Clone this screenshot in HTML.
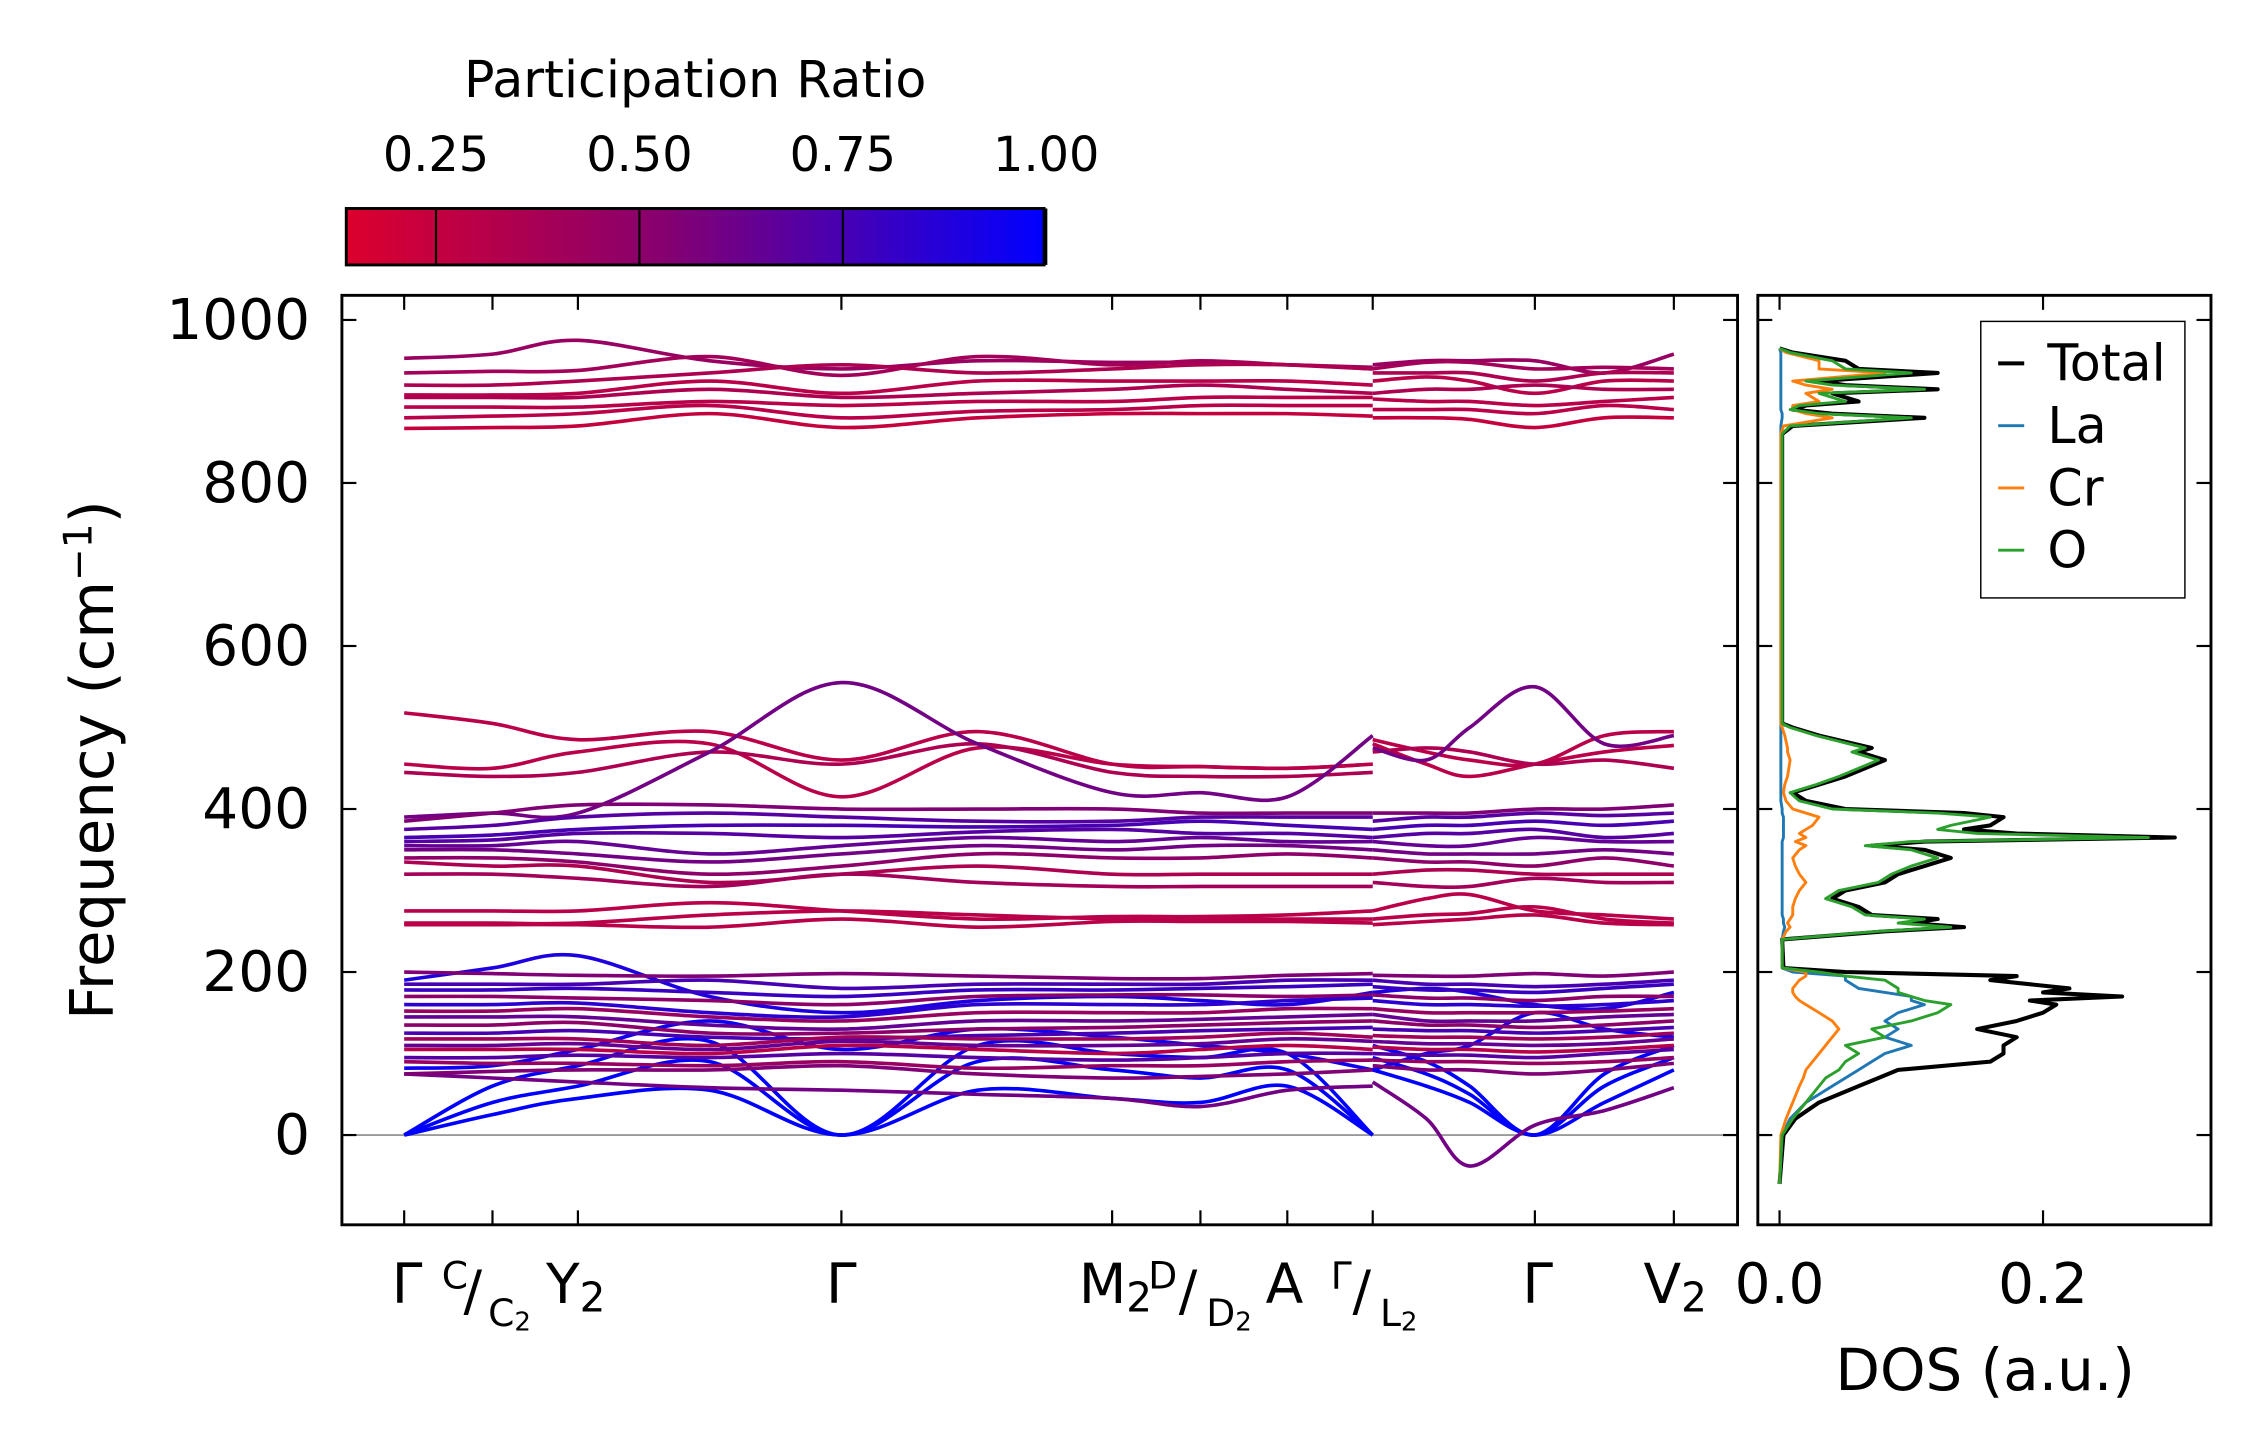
<!DOCTYPE html>
<html><head><meta charset="utf-8">
<style>
html,body{margin:0;padding:0;background:#fff;}
svg{display:block;font-family:"DejaVu Sans","Liberation Sans",sans-serif;}
</style></head>
<body>
<svg id="chart" width="2259" height="1455" viewBox="0 0 1560 1005" xmlns="http://www.w3.org/2000/svg">
<defs>
<linearGradient id="cmap" x1="0" x2="1" y1="0" y2="0">
<stop offset="0" stop-color="rgb(220,0,45)"/>
<stop offset="0.45" stop-color="rgb(135,0,110)"/>
<stop offset="1" stop-color="rgb(0,0,255)"/>
</linearGradient>
<clipPath id="clipMain"><rect x="236" y="204" width="964" height="642"/></clipPath>
<clipPath id="clipDos"><rect x="1214" y="204" width="313" height="642"/></clipPath>
</defs>
<g id="colorbar">
<text x="480" y="67" font-size="35" text-anchor="middle">Participation Ratio</text>
<rect x="239" y="144" width="482" height="39" fill="url(#cmap)" stroke="#000" stroke-width="2"/>
</g>
<g id="mainAxes"></g>
<g id="dosAxes"></g>
<text transform="translate(78,525) rotate(-90)" font-size="41" text-anchor="middle">Frequency (cm<tspan dy="-15" font-size="27">−1</tspan><tspan dy="15">)</tspan></text>
<text x="1371" y="960" font-size="40" text-anchor="middle">DOS (a.u.)</text>
</svg>
<script>
// ---- data ----
const seg1K = [279,340,399,490,581,675,768,829,889,948];
const seg2K = [948,985,1015,1060,1108,1156];
const bandSeg1 = [
[953,958,975,950,940,950,948,948,945,942],
[935,937,938,955,932,955,945,950,945,940],
[920,920,925,935,945,935,940,945,945,940],
[908,908,910,925,910,925,925,925,925,920],
[905,905,905,915,905,910,915,920,915,910],
[893,893,893,900,895,900,900,905,905,905],
[880,882,885,895,880,888,890,895,895,895],
[867,868,870,885,868,880,885,885,885,882],
[518,505,485,495,460,495,455,452,450,455],
[455,450,470,480,415,475,455,452,450,455],
[445,440,445,470,455,480,445,440,440,445],
[390,395,395,470,555,480,420,420,415,490],
[385,395,405,405,400,400,400,395,395,395],
[375,380,390,395,390,385,385,390,390,390],
[365,368,375,380,380,378,380,385,380,375],
[360,362,370,370,365,372,375,370,370,365],
[355,355,360,345,355,365,360,365,360,360],
[350,350,345,335,345,355,350,355,355,350],
[340,340,335,320,330,345,340,340,345,340],
[335,330,330,310,320,330,320,320,320,320],
[320,320,315,305,320,310,305,305,305,305],
[275,275,275,285,275,265,268,268,270,275],
[260,260,260,270,275,270,265,265,265,265],
[258,258,258,255,265,255,262,262,262,260],
[0,25,45,55,0,55,45,40,60,0],
[0,40,60,90,0,90,80,70,80,0],
[0,60,85,115,0,110,100,95,100,0],
[75,70,65,58,55,50,45,35,55,60],
[82,85,105,140,105,130,120,110,100,80],
[190,205,220,170,150,165,170,165,160,175],
[200,198,196,195,198,195,192,192,196,198],
[185,185,185,190,180,185,185,185,190,190],
[178,178,180,175,170,178,178,180,182,185],
[170,170,168,165,160,170,172,172,170,172],
[160,160,162,150,145,160,160,160,165,168],
[152,152,155,145,140,150,150,150,155,155],
[145,145,145,135,130,140,140,142,145,148],
[135,135,138,125,125,130,132,135,138,140],
[125,125,128,120,118,122,125,128,130,132],
[118,118,118,110,120,118,118,120,125,120],
[110,110,112,105,115,110,110,112,118,115],
[105,105,105,100,110,105,100,105,110,105],
[95,95,98,95,100,95,92,95,100,100],
[90,88,88,85,90,82,85,85,90,92],
[75,78,80,80,85,75,70,72,75,80]
];
const bandSeg2 = [
[945,950,950,950,935,958],
[940,948,948,940,942,940],
[935,935,935,925,935,935],
[925,930,925,910,925,925],
[910,915,915,920,915,915],
[903,900,900,895,900,905],
[890,890,890,885,895,890],
[880,880,878,868,880,880],
[485,470,460,455,490,495],
[480,455,440,455,470,478],
[470,475,470,455,460,450],
[475,460,500,550,480,490],
[395,395,395,400,400,405],
[385,390,390,395,392,395],
[375,380,380,385,380,385],
[365,370,370,375,365,370],
[360,355,355,365,360,360],
[350,345,345,345,350,345],
[340,335,335,330,340,330],
[320,325,325,320,320,320],
[310,305,305,315,310,310],
[275,290,295,275,270,265],
[265,270,272,280,265,260],
[258,262,265,270,260,258],
[80,60,40,0,40,80],
[95,75,50,0,60,95],
[110,90,60,0,75,110],
[65,20,-38,12,30,58],
[80,100,110,150,130,120],
[175,180,175,160,155,175],
[196,195,195,198,195,200],
[190,185,185,182,185,190],
[182,178,178,175,180,185],
[172,168,168,165,170,170],
[165,160,160,158,160,165],
[155,150,150,150,152,155],
[148,140,140,140,145,148],
[140,135,135,132,135,140],
[130,128,128,125,128,132],
[122,120,120,118,120,125],
[115,112,112,110,112,118],
[108,105,105,102,105,110],
[100,98,98,95,100,105],
[92,90,90,88,90,95],
[85,80,80,75,80,88]
];
const bandPR = [0.45,0.4,0.35,0.3,0.35,0.3,0.3,0.25,0.3,0.3,0.35,0.6,0.55,0.7,0.75,0.7,0.65,0.6,0.5,0.35,0.4,0.3,0.3,0.3,1.0,1.0,1.0,0.6,0.95,0.9,0.55,0.75,0.8,0.5,0.85,0.45,0.65,0.5,0.75,0.4,0.65,0.3,0.7,0.45,0.55];
const yTicks = [0,200,400,600,800,1000];
const cbTicks = [0.25,0.50,0.75,1.00];
const dosFreq = [-60,0,20,40,60,70,80,90,100,110,120,130,140,150,160,165,170,175,180,190,195,200,205,240,250,255,260,265,270,280,290,300,310,320,330,340,350,355,360,365,370,375,380,390,395,400,410,420,430,440,460,470,475,490,500,505,860,870,880,885,890,895,900,910,915,920,925,935,940,950,960,965];
const dosTotal = [0,.003,.012,.03,.06,.075,.09,.16,.17,.17,.18,.15,.18,.2,.21,.19,.26,.2,.22,.16,.18,.05,.003,.002,.08,.14,.1,.12,.07,.06,.04,.05,.08,.09,.11,.13,.11,.07,.11,.3,.18,.14,.16,.17,.14,.05,.02,.01,.03,.05,.08,.06,.07,.03,.01,.002,.002,.01,.11,.04,.01,.02,.06,.04,.12,.05,.03,.12,.06,.05,.01,0];
const dosO = [0,.002,.01,.02,.03,.035,.045,.05,.06,.05,.08,.07,.1,.12,.13,.11,.1,.09,.09,.08,.05,.03,.002,.002,.075,.13,.09,.11,.065,.055,.035,.045,.075,.085,.1,.12,.1,.065,.1,.28,.15,.12,.13,.16,.12,.04,.015,.008,.028,.045,.075,.055,.065,.028,.008,.002,.002,.008,.1,.03,.008,.015,.05,.03,.11,.04,.02,.1,.05,.04,.008,0];
const dosLa = [0,.002,.008,.02,.04,.05,.06,.07,.08,.1,.08,.09,.08,.09,.11,.1,.1,.08,.06,.05,.05,.01,.002,.002,.003,.004,.003,.003,.002,.002,.002,.002,.002,.002,.002,.002,.002,.002,.002,.003,.003,.003,.003,.003,.002,.002,.001,.001,.001,.001,.001,.001,.001,.001,.001,.001,.001,.001,.002,.002,.001,.001,.001,.001,.001,.001,.001,.001,.001,.001,.001,0];
const dosCr = [0,.001,.005,.01,.015,.018,.02,.025,.03,.035,.04,.045,.04,.03,.02,.015,.012,.01,.01,.015,.02,.02,.002,.002,.005,.008,.006,.008,.01,.01,.012,.015,.02,.015,.012,.01,.015,.02,.012,.02,.015,.02,.025,.03,.02,.01,.005,.003,.004,.006,.008,.006,.006,.004,.002,.001,.001,.003,.04,.02,.01,.01,.03,.02,.04,.02,.01,.08,.03,.03,.005,0];
const dosTicks = [0.0,0.2];

// ---- scales ----
const Y = f => 784 - f * 0.563;
const XD = v => 1229 + v * 910;
const XCB = v => 301 + (v - 0.25) * 562;
const NS = "http://www.w3.org/2000/svg";
const mainG = document.getElementById('mainAxes');
const dosG = document.getElementById('dosAxes');
const cbG = document.getElementById('colorbar');
function mk(tag, attrs, parent){const e=document.createElementNS(NS,tag);for(const k in attrs)e.setAttribute(k,attrs[k]);parent.appendChild(e);return e;}
function prColor(p){
  const t=Math.max(0,Math.min(1,(p-0.14)/0.86));
  let a,b,u;
  if(t<0.45){a=[220,0,45];b=[135,0,110];u=t/0.45;}else{a=[135,0,110];b=[0,0,255];u=(t-0.45)/0.55;}
  return `rgb(${Math.round(a[0]+(b[0]-a[0])*u)},0,${Math.round(a[2]+(b[2]-a[2])*u)})`;
}
function spline(xs, ys){
  let d=`M${xs[0]},${ys[0].toFixed(1)}`;
  for(let i=0;i<xs.length-1;i++){
    const x0=xs[Math.max(0,i-1)],y0=ys[Math.max(0,i-1)],x1=xs[i],y1=ys[i],x2=xs[i+1],y2=ys[i+1],x3=xs[Math.min(xs.length-1,i+2)],y3=ys[Math.min(xs.length-1,i+2)];
    const c1x=x1+(x2-x0)/6,c1y=y1+(y2-y0)/6,c2x=x2-(x3-x1)/6,c2y=y2-(y3-y1)/6;
    d+=` C${c1x.toFixed(1)},${c1y.toFixed(1)} ${c2x.toFixed(1)},${c2y.toFixed(1)} ${x2},${y2.toFixed(1)}`;
  }
  return d;
}
function line(xs, ys){return xs.map((x,i)=>(i?'L':'M')+x.toFixed(1)+','+ys[i].toFixed(1)).join(' ');}

cbTicks.forEach(v=>{
  const x=XCB(v);
  const t=mk('line',{x1:x,x2:x,y1:144,y2:183,stroke:'#000','stroke-width':1.5},cbG);
  
  
  const l=mk('text',{x:x,y:118,'font-size':33,'text-anchor':'middle'},cbG);
  l.textContent=v.toFixed(2);
  
  
});

const zl=mk('line',{x1:236,x2:1200,y1:Y(0),y2:Y(0),stroke:'#999','stroke-width':1.3},mainG);



const bandG=mk('g',{'clip-path':'url(#clipMain)'},mainG);


bandSeg1.forEach((vals,i)=>{
  const p=mk('path',{d:spline(seg1K,vals.map(Y)),fill:'none',stroke:prColor(bandPR[i]),'stroke-width':2.5},bandG);
  
  
});
bandSeg2.forEach((vals,i)=>{
  const p=mk('path',{d:spline(seg2K,vals.map(Y)),fill:'none',stroke:prColor(bandPR[i]),'stroke-width':2.5},bandG);
  
  
});

const mf=mk('rect',{x:236,y:204,width:964,height:642,fill:'none',stroke:'#000','stroke-width':2},mainG);



yTicks.forEach(v=>{
  const y=Y(v);
  [[236,246],[1190,1200],[1214,1224],[1517,1527]].forEach(([a,b])=>{
    const t=mk('line',{x1:a,x2:b,y1:y,y2:y,stroke:'#000','stroke-width':1.5},mainG);
    
    
  });
  const l=mk('text',{x:214,y:y+13,'font-size':39,'text-anchor':'end'},mainG);
  l.textContent=v;
  
  
});
const kTicks=[279,340,399,581,768,829,889,948,1060,1156];
kTicks.forEach(x=>{
  [[836,846],[204,214]].forEach(([a,b])=>{
    const t=mk('line',{x1:x,x2:x,y1:a,y2:b,stroke:'#000','stroke-width':1.5},mainG);
    
    
  });
});
const xl=mk('g',{'font-size':38},mainG);


xl.innerHTML=`
<text x="281" y="900" text-anchor="middle">Γ</text>
<text x="305" y="890" font-size="26">C</text><text x="320" y="905">/</text><text x="337" y="916" font-size="26">C<tspan font-size="18" dy="3">2</tspan></text>
<text x="377" y="900">Y<tspan font-size="28" dy="6">2</tspan></text>
<text x="581" y="900" text-anchor="middle">Γ</text>
<text x="745" y="900">M<tspan font-size="28" dy="6">2</tspan></text>
<text x="793" y="890" font-size="26">D</text><text x="814" y="905">/</text><text x="833" y="916" font-size="26">D<tspan font-size="18" dy="3">2</tspan></text>
<text x="874" y="900">A</text>
<text x="919" y="890" font-size="26">Γ</text><text x="934" y="905">/</text><text x="953" y="916" font-size="26">L<tspan font-size="18" dy="3">2</tspan></text>
<text x="1062" y="900" text-anchor="middle">Γ</text>
<text x="1135" y="900">V<tspan font-size="28" dy="6">2</tspan></text>`;

const dosLines=mk('g',{'clip-path':'url(#clipDos)'},dosG);


const ys=dosFreq.map(Y);
[[dosTotal,'#000',2.8,'dos-total'],[dosLa,'#1f77b4',2,'dos-la'],[dosCr,'#ff7f0e',2,'dos-cr'],[dosO,'#2ca02c',2,'dos-o']].forEach(([arr,c,w,n])=>{
  const p=mk('path',{d:line(arr.map(XD),ys),fill:'none',stroke:c,'stroke-width':w,'stroke-linejoin':'round'},dosLines);
  
  
});
const df=mk('rect',{x:1214,y:204,width:313,height:642,fill:'none',stroke:'#000','stroke-width':2},dosG);


dosTicks.forEach(v=>{
  const x=XD(v);
  [[836,846],[204,214]].forEach(([a,b])=>{
    const t=mk('line',{x1:x,x2:x,y1:a,y2:b,stroke:'#000','stroke-width':1.5},dosG);
    
    
  });
  const l=mk('text',{x:x,y:900,'font-size':39,'text-anchor':'middle'},dosG);
  l.textContent=v.toFixed(1);
  
  
});
const lg=mk('g',{},dosG);


mk('rect',{x:1368,y:222,width:141,height:191,fill:'#fff',stroke:'#000','stroke-width':1},lg);
[['Total','#000',2.8],['La','#1f77b4',2],['Cr','#ff7f0e',2],['O','#2ca02c',2]].forEach(([n,c,w],i)=>{
  const y=251+i*43;
  const e=mk('g',{},lg);
  
  
  mk('line',{x1:1380,x2:1398,y1:y,y2:y,stroke:c,'stroke-width':w},e);
  const t=mk('text',{x:1414,y:y+12,'font-size':35},e);
  t.textContent=n;
});
</script>
</body></html>
